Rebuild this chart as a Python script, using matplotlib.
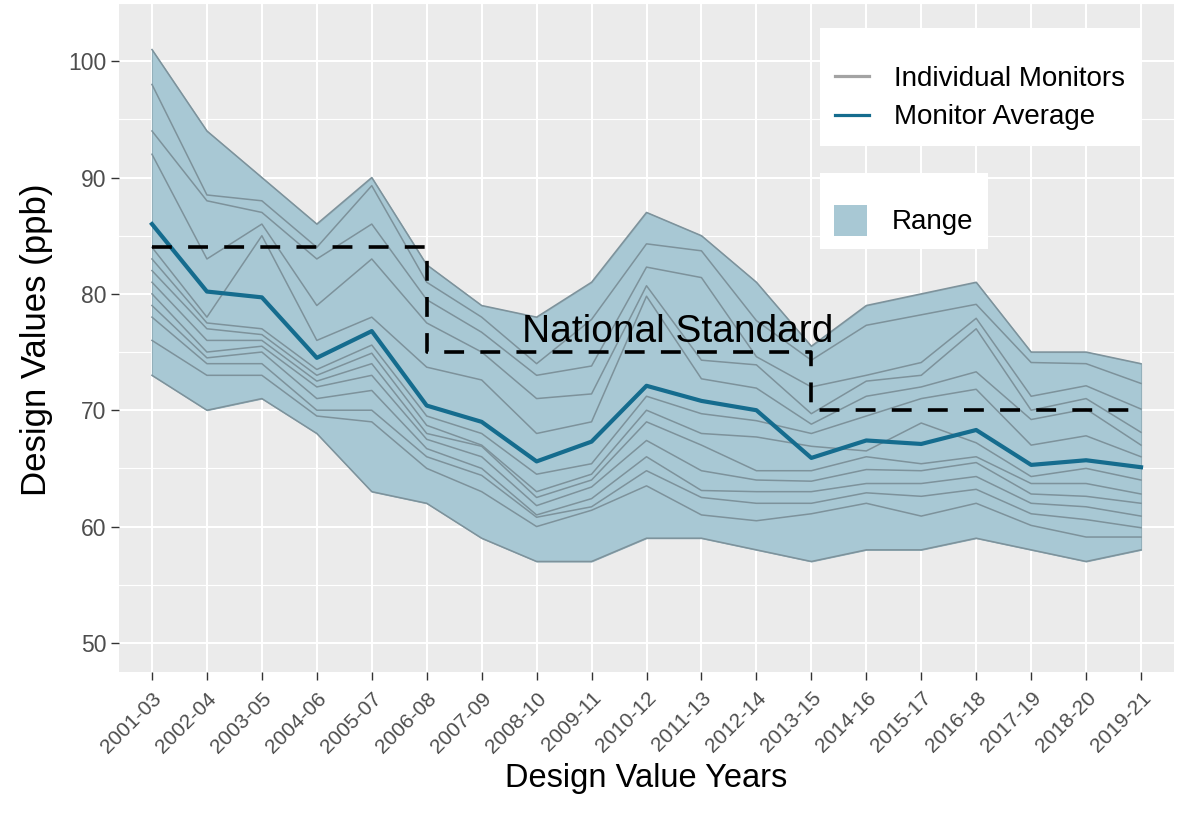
import numpy as np
import matplotlib
matplotlib.use("Agg")
import matplotlib.pyplot as plt
from matplotlib.lines import Line2D
from matplotlib.patches import Patch
from matplotlib.ticker import MultipleLocator

plt.rcParams['font.family'] = ['Liberation Sans', 'DejaVu Sans']

periods = ["2001-03", "2002-04", "2003-05", "2004-06", "2005-07", "2006-08", "2007-09",
           "2008-10", "2009-11", "2010-12", "2011-13", "2012-14", "2013-15", "2014-16",
           "2015-17", "2016-18", "2017-19", "2018-20", "2019-21"]

m1 = [101, 94, 90, 86, 90, 82.5, 79, 78, 81, 87, 85, 81, 75.5, 79, 80, 81, 75, 75, 74]
m2 = [98, 88.5, 88, 84, 89.3, 81, 78, 74, 77.8, 84.3, 83.7, 77.7, 74.3, 77.3, 78.2, 79.1, 74.1, 74, 72.3]
m3 = [94, 88, 87, 83, 86, 79.5, 76.7, 73, 73.8, 82.3, 81.4, 74.6, 72, 73, 74.1, 77.9, 71.2, 72.1, 70.1]
m4 = [92, 83, 86, 79, 83, 77.5, 75, 71, 71.4, 80.7, 74.3, 73.9, 69.7, 72.5, 73, 77, 70, 71, 68.1]
m5 = [84, 78, 85, 76, 78, 73.7, 72.6, 68, 69, 79.8, 72.7, 71.9, 68.8, 71.2, 72, 73.3, 69.2, 70.1, 67]
m6 = [83, 77.5, 77, 73.5, 75.6, 69.5, 68, 64.5, 65.4, 71.2, 69.7, 69.1, 68, 69.5, 71, 71.8, 67, 67.8, 66]
m7 = [82, 77, 76.5, 73, 74.9, 68.7, 67, 63, 64.5, 70, 68, 67.7, 66.9, 66.5, 68.9, 67.2, 64.3, 65, 64]
m8 = [81, 76, 76, 72.5, 74, 68, 66.9, 62.5, 64, 69, 67, 64.8, 64.8, 66, 65.4, 66, 63.7, 63.7, 62.8]
m9 = [80, 75, 75.5, 72, 73, 67.5, 66, 61.8, 63.4, 67.4, 64.8, 64, 63.9, 64.9, 64.8, 65.5, 62.8, 62.6, 62]
m10 = [79, 74.5, 75, 71, 71.7, 66.7, 65, 61, 62.4, 66, 63.1, 63, 63, 63.7, 63.7, 64.3, 62, 61.7, 60.9]
m11 = [78, 74, 74, 70, 70, 66, 64.4, 60.8, 61.7, 64.8, 62.5, 62, 62, 62.9, 62.6, 63.2, 61.1, 60.6, 59.9]
m12 = [76, 73, 73, 69.5, 69, 65, 63, 60, 61.4, 63.5, 61, 60.5, 61.1, 62, 60.9, 62, 60.1, 59.1, 59.1]
m13 = [73, 70, 71, 68, 63, 62, 59, 57, 57, 59, 59, 58, 57, 58, 58, 59, 58, 57, 58]
monitors = [m1, m2, m3, m4, m5, m6, m7, m8, m9, m10, m11, m12, m13]

monitor_average = [86, 80.2, 79.7, 74.5, 76.8, 70.4, 69, 65.6, 67.3, 72.1, 70.8, 70,
                   65.9, 67.4, 67.1, 68.3, 65.3, 65.7, 65.1]

national_standard = [84] * 6 + [75] * 7 + [70] * 6

y_ticks = [50, 60, 70, 80, 90, 100]

# ---- figure ----
W, H = 1185, 816
fig = plt.figure(figsize=(W / 100, H / 100), dpi=100)
fig.patch.set_facecolor("white")
pl, pr, pt, pb = 119, 1174, 3, 672
ax = fig.add_axes([pl / W, 1 - pb / H, (pr - pl) / W, (pb - pt) / H])
ax.set_facecolor("#EBEBEB")
for s in ax.spines.values():
    s.set_visible(False)

x = np.arange(len(periods))
arr = np.array(monitors)
rmin = arr.min(axis=0)
rmax = arr.max(axis=0)

ax.fill_between(x, rmin, rmax, color="#A8C8D4", zorder=2, linewidth=0.8, edgecolor="#93B0BB")
for m in monitors:
    ax.plot(x, m, color="#7D929B", lw=1.1, zorder=3)
ax.plot(x, monitor_average, color="#156C8E", lw=3.0, zorder=5, solid_joinstyle="round")
ax.plot(x, national_standard, color="black", lw=2.6, drawstyle="steps-pre",
        linestyle=(0, (5.5, 4.5)), zorder=6)

ax.text(9.56, 75.9, "National Standard", fontsize=28, color="black", ha="center",
        va="baseline", zorder=7)

ax.set_xlim(-0.6, 18.6)
ax.set_ylim(47.5, 105)
ax.set_xticks(x)
ax.set_xticklabels(periods, rotation=45, ha="right", va="top", rotation_mode="anchor")
ax.set_yticks(y_ticks)
ax.yaxis.set_minor_locator(MultipleLocator(5))
ax.grid(which="major", color="white", lw=1.5, zorder=0)
ax.grid(which="minor", axis="y", color="white", lw=0.8, zorder=0)
ax.set_axisbelow(True)
ax.tick_params(axis="both", which="major", length=6, width=1.0, color="#333333",
               labelcolor="#4D4D4D", labelsize=16.5, pad=3)
ax.tick_params(axis="x", labelsize=15, pad=6)
ax.tick_params(which="minor", length=0)

fig.text(646.5 / W, 1 - 779 / H, "Design Value Years", fontsize=23.5, ha="center", va="center")
fig.text(37 / W, 1 - 340 / H, "Design Values (ppb)", fontsize=25, rotation=90,
         ha="center", va="center")

# legends
h1 = [Line2D([], [], color="#A3A3A3", lw=2.3), Line2D([], [], color="#156C8E", lw=2.3)]
leg1 = ax.legend(h1, ["Individual Monitors", "Monitor Average"], loc="upper left",
                 bbox_to_anchor=(820 / W, 1 - 28 / H), bbox_transform=fig.transFigure,
                 fontsize=20, frameon=True, fancybox=False, framealpha=1,
                 handlelength=1.2, handletextpad=0.9, borderpad=0.55, labelspacing=0.45,
                 borderaxespad=0, title=" ", title_fontsize=8)
leg1.get_frame().set_edgecolor("white")
leg1.get_frame().set_linewidth(0)
ax.add_artist(leg1)
h2 = [Patch(facecolor="#A8C8D4", edgecolor="none")]
leg2 = ax.legend(h2, ["Range"], loc="upper left",
                 bbox_to_anchor=(820 / W, 1 - 173 / H), bbox_transform=fig.transFigure,
                 fontsize=20, frameon=True, fancybox=False, framealpha=1,
                 handlelength=1.2, handleheight=1.33, handletextpad=0.9, borderpad=0.5,
                 borderaxespad=0, title=" ", title_fontsize=2)
leg2.get_frame().set_edgecolor("white")
leg2.get_frame().set_linewidth(0)

fig.savefig("out.png", dpi=100, facecolor="white")
